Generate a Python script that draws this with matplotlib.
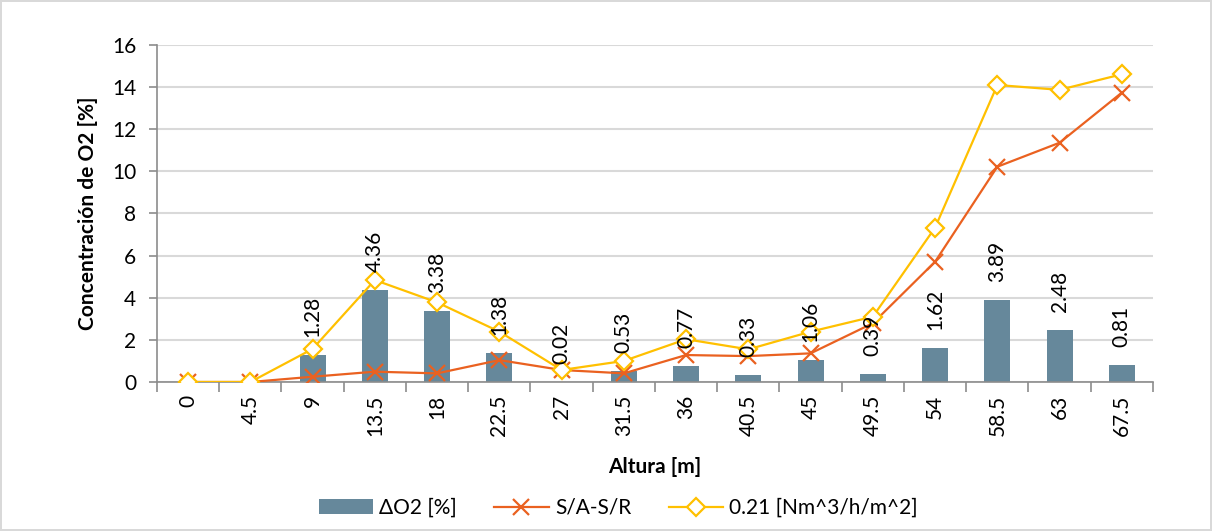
import matplotlib
matplotlib.use("Agg")
import matplotlib.pyplot as plt
import numpy as np

categories = ["0", "4.5", "9", "13.5", "18", "22.5", "27", "31.5", "36", "40.5",
              "45", "49.5", "54", "58.5", "63", "67.5"]
delta_o2 = [0, 0, 1.28, 4.36, 3.38, 1.38, 0.02, 0.53, 0.77, 0.33, 1.06, 0.39,
            1.62, 3.89, 2.48, 0.81]
bar_labels = ["", "", "1.28", "4.36", "3.38", "1.38", "0.02", "0.53", "0.77", "0.33",
              "1.06", "0.39", "1.62", "3.89", "2.48", "0.81"]
sa_sr = [0, 0, 0.25, 0.49, 0.41, 1.04, 0.57, 0.41, 1.28, 1.23, 1.36, 2.79,
         5.71, 10.22, 11.36, 13.74]
flow_021 = [0, 0, 1.57, 4.84, 3.78, 2.39, 0.57, 1.0, 2.03, 1.55, 2.39, 3.1,
            7.33, 14.1, 13.87, 14.61]

plt.rcParams['font.family'] = ['Lato', 'DejaVu Sans']

BAR = '#66889B'
ORANGE = '#EA6120'
YELLOW = '#FFC000'
GRID = '#D9D9D9'
AX = '#8C8C8C'
FS = 15

fig = plt.figure(figsize=(12.12, 5.31), dpi=100)
fig.patch.set_facecolor('white')
fig.patch.set_edgecolor(GRID)
fig.patch.set_linewidth(1.5)

ax = fig.add_axes([0.1295, 0.2806, 0.9513 - 0.1295, 0.9153 - 0.2806])
x = np.arange(len(categories))

bars = ax.bar(x, delta_o2, width=0.42, color=BAR, label='ΔO2 [%]', zorder=2)
l1, = ax.plot(x, sa_sr, color=ORANGE, lw=1.6, marker='x', markersize=11, mew=1.6,
              label='S/A-S/R', zorder=3)
l2, = ax.plot(x, flow_021, color=YELLOW, lw=1.6, marker='D', markersize=9, mew=1.6,
              mfc='white', mec=YELLOW, label='0.21 [Nm^3/h/m^2]', zorder=4)

for xi, v, lab in zip(x, delta_o2, bar_labels):
    if lab:
        ax.annotate(lab, (xi, v), xytext=(0, 13), textcoords='offset points',
                    rotation=90, ha='center', va='bottom', fontsize=FS,
                    color='black', zorder=5)

ax.set_xlim(-0.5, len(categories) - 0.5)
ax.set_ylim(0, 16)
ax.set_yticks(np.arange(0, 17, 2))
ax.yaxis.grid(True, color=GRID, lw=1.5, zorder=0)
ax.set_axisbelow(True)

ax.set_xticks(x)
ax.set_xticklabels(categories, rotation=90, fontsize=FS)
ax.tick_params(axis='x', which='major', length=0, pad=9)
ax.set_xticks(np.arange(-0.5, len(categories)), minor=True)
ax.tick_params(axis='x', which='minor', length=7, width=1.2, color=AX, direction='out')
ax.tick_params(axis='y', length=6, width=1.2, color=AX, labelsize=FS, pad=9)

for s in ['top', 'right']:
    ax.spines[s].set_visible(False)
for s in ['left', 'bottom']:
    ax.spines[s].set_color(AX)
    ax.spines[s].set_linewidth(1.2)

fig.text(88 / 1212, 1 - 213.5 / 531, 'Concentración de O2 [%]', rotation=90,
         ha='center', va='center', fontsize=FS, fontweight='bold')
fig.text(655 / 1212, 1 - 467 / 531, 'Altura [m]', ha='center', va='center',
         fontsize=FS, fontweight='bold')

fig.legend([bars, l1, l2], ['ΔO2 [%]', 'S/A-S/R', '0.21 [Nm^3/h/m^2]'],
           loc='center', bbox_to_anchor=(0.51, 1 - 508 / 531), ncol=3,
           frameon=False, fontsize=FS, handlelength=2.6, columnspacing=1.8,
           handletextpad=0.3)

fig.savefig('out.png', dpi=100)
